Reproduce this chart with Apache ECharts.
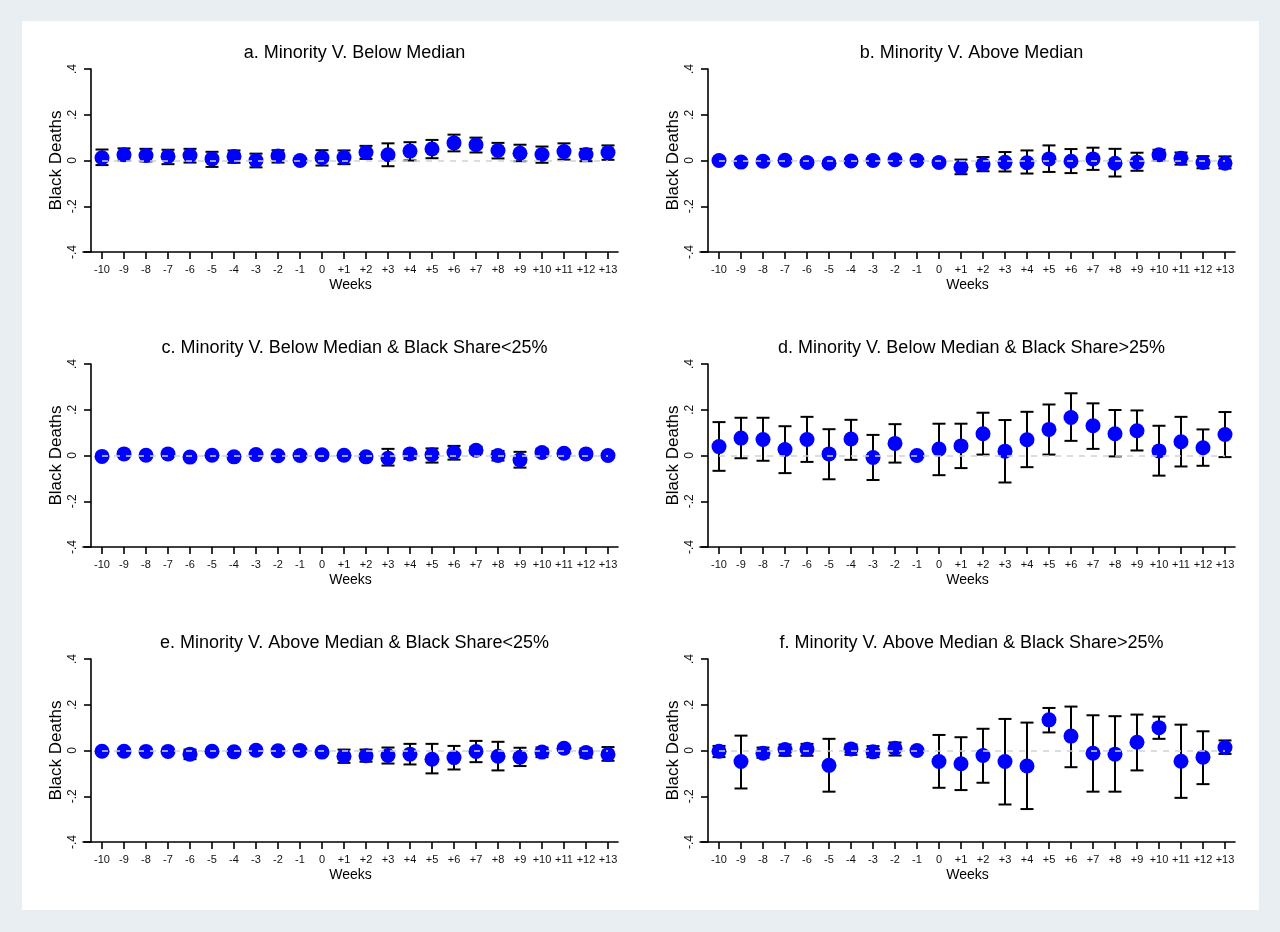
<!DOCTYPE html>
<html><head><meta charset="utf-8">
<script src="https://cdn.jsdelivr.net/npm/echarts@6/dist/echarts.min.js"></script>
<style>
html,body{margin:0;padding:0;background:#e8eef2;width:1280px;height:932px;overflow:hidden}
#frame{position:absolute;left:22px;top:21px;width:1237px;height:889px;background:#fff}
#chart{position:absolute;left:0;top:0;width:1280px;height:932px}
</style></head><body>
<div id="frame"></div><div id="chart"></div>
<script>
const weeks = [-10,-9,-8,-7,-6,-5,-4,-3,-2,-1,0,1,2,3,4,5,6,7,8,9,10,11,12,13];
const weekLabels = ['-10','-9','-8','-7','-6','-5','-4','-3','-2','-1','0','+1','+2','+3','+4','+5','+6','+7','+8','+9','+10','+11','+12','+13'];
const yTicks = [-0.4,-0.2,0,0.2,0.4];
const yTickLabels = ['-.4','-.2','0','.2','.4'];

const titles = [
  'a. Minority V. Below Median',
  'b. Minority V. Above Median',
  'c. Minority V. Below Median & Black Share<25%',
  'd. Minority V. Below Median & Black Share>25%',
  'e. Minority V. Above Median & Black Share<25%',
  'f. Minority V. Above Median & Black Share>25%'
];

const aPt = [0.012,0.025,0.022,0.018,0.022,0.007,0.018,0.000,0.020,0.000,0.012,0.013,0.035,0.025,0.041,0.050,0.077,0.069,0.044,0.032,0.026,0.039,0.026,0.035];
const aLo = [-0.020,0.000,-0.004,-0.016,-0.009,-0.028,-0.010,-0.030,-0.009,null,-0.022,-0.016,0.007,-0.025,0.000,0.010,0.040,0.035,0.009,-0.003,-0.010,0.004,-0.003,0.003];
const aHi = [0.048,0.053,0.051,0.047,0.051,0.038,0.044,0.030,0.045,null,0.045,0.044,0.064,0.075,0.080,0.090,0.113,0.100,0.077,0.069,0.061,0.075,0.051,0.066];

const bPt = [0.000,-0.007,-0.003,0.001,-0.009,-0.012,-0.002,0.000,0.003,0.000,-0.009,-0.030,-0.018,-0.008,-0.010,0.007,-0.003,0.007,-0.012,-0.008,0.025,0.010,-0.009,-0.012];
const bLo = [-0.004,-0.018,-0.010,-0.004,-0.020,-0.022,-0.008,-0.005,-0.003,null,-0.021,-0.060,-0.047,-0.048,-0.057,-0.050,-0.055,-0.041,-0.070,-0.045,0.000,-0.018,-0.034,-0.035];
const bHi = [0.004,0.004,0.004,0.006,0.002,-0.002,0.004,0.005,0.009,null,0.003,0.004,0.015,0.037,0.044,0.066,0.050,0.056,0.051,0.034,0.047,0.035,0.019,0.018];

const cPt = [-0.004,0.007,0.001,0.007,-0.007,0.001,-0.006,0.004,-0.001,0.000,0.003,0.001,-0.006,-0.012,0.007,0.003,0.013,0.023,0.000,-0.019,0.013,0.010,0.007,0.000];
const cLo = [-0.010,0.001,-0.004,0.001,-0.014,-0.004,-0.012,-0.002,-0.007,null,-0.003,-0.005,-0.016,-0.044,-0.015,-0.031,-0.018,0.009,-0.022,-0.053,-0.003,-0.002,-0.002,-0.008];
const cHi = [0.002,0.013,0.006,0.013,0.000,0.006,0.000,0.010,0.005,null,0.009,0.007,0.004,0.029,0.020,0.031,0.042,0.038,0.020,0.016,0.029,0.022,0.016,0.008];

const dPt = [0.039,0.076,0.070,0.026,0.070,0.007,0.072,-0.009,0.053,0.000,0.028,0.042,0.095,0.019,0.069,0.114,0.166,0.130,0.095,0.108,0.020,0.060,0.034,0.092];
const dLo = [-0.067,-0.012,-0.023,-0.077,-0.028,-0.104,-0.019,-0.107,-0.031,null,-0.086,-0.055,0.004,-0.118,-0.051,0.004,0.064,0.029,-0.004,0.022,-0.088,-0.048,-0.045,-0.007];
const dHi = [0.146,0.165,0.165,0.128,0.169,0.115,0.156,0.090,0.137,null,0.139,0.139,0.187,0.155,0.191,0.223,0.272,0.228,0.199,0.197,0.130,0.169,0.114,0.190];

const ePt = [-0.003,-0.003,-0.004,-0.004,-0.016,-0.003,-0.006,0.001,-0.001,0.000,-0.007,-0.025,-0.023,-0.022,-0.016,-0.038,-0.031,-0.004,-0.025,-0.029,-0.007,0.010,-0.009,-0.017];
const eLo = [-0.008,-0.008,-0.009,-0.009,-0.038,-0.008,-0.011,-0.004,-0.006,null,-0.013,-0.054,-0.049,-0.057,-0.061,-0.100,-0.083,-0.051,-0.087,-0.068,-0.029,0.002,-0.031,-0.045];
const eHi = [0.002,0.002,0.001,0.001,0.004,0.002,-0.001,0.006,0.004,null,-0.001,0.004,0.004,0.013,0.029,0.029,0.020,0.042,0.038,0.012,0.013,0.018,0.009,0.015];

const fPt = [-0.003,-0.048,-0.012,0.004,0.006,-0.065,0.007,-0.006,0.010,0.000,-0.048,-0.058,-0.022,-0.048,-0.068,0.134,0.063,-0.012,-0.016,0.036,0.100,-0.047,-0.029,0.013];
const fLo = [-0.029,-0.166,-0.032,-0.023,-0.023,-0.180,-0.019,-0.029,-0.022,null,-0.163,-0.173,-0.141,-0.236,-0.256,0.079,-0.073,-0.180,-0.180,-0.087,0.051,-0.207,-0.147,-0.015];
const fHi = [0.020,0.065,0.013,0.026,0.029,0.051,0.026,0.019,0.035,null,0.068,0.058,0.095,0.138,0.122,0.186,0.192,0.154,0.150,0.157,0.148,0.113,0.084,0.044];

const panels = [
  {pt:aPt, lo:aLo, hi:aHi},
  {pt:bPt, lo:bLo, hi:bHi},
  {pt:cPt, lo:cLo, hi:cHi},
  {pt:dPt, lo:dLo, hi:dHi},
  {pt:ePt, lo:eLo, hi:eHi},
  {pt:fPt, lo:fLo, hi:fHi}
];

// layout
const colLeft = [83, 700];
const rowTop = [69, 364, 659];
const gridW = 535, gridH = 183;
const xMin = -10.864, xMax = 13.455;
const FONT = '"Liberation Sans", Arial, sans-serif';

function renderErr(params, api){
  const x = api.value(0), lo = api.value(1), hi = api.value(2);
  const p1 = api.coord([x, hi]), p2 = api.coord([x, lo]);
  const hw = 6.5;
  const st = {stroke:'#000', lineWidth:2};
  return {type:'group', children:[
    {type:'line', shape:{x1:p1[0],y1:p1[1],x2:p2[0],y2:p2[1]}, style:st},
    {type:'line', shape:{x1:p1[0]-hw,y1:p1[1],x2:p1[0]+hw,y2:p1[1]}, style:st},
    {type:'line', shape:{x1:p2[0]-hw,y1:p2[1],x2:p2[0]+hw,y2:p2[1]}, style:st}
  ]};
}

const grid=[], xAxis=[], yAxis=[], series=[], graphic=[];
panels.forEach((p, i) => {
  const col = i % 2, row = Math.floor(i / 2);
  const left = colLeft[col], top = rowTop[row];
  grid.push({left:left, top:top, width:gridW, height:gridH, containLabel:false});
  xAxis.push({
    type:'value', gridIndex:i, min:xMin, max:xMax,
    name:'Weeks', nameLocation:'middle', nameGap:26,
    nameTextStyle:{color:'#000', fontSize:14, fontFamily:FONT},
    axisLine:{show:true, onZero:false, lineStyle:{color:'#000', width:1.6}},
    axisTick:{show:true, length:7, customValues:weeks, lineStyle:{color:'#000', width:1.6}},
    axisLabel:{show:true, customValues:weeks, margin:12, color:'#111', fontSize:11, fontFamily:FONT,
      formatter:(v)=>{const k=weeks.indexOf(Math.round(v)); return k>=0?weekLabels[k]:'';}},
    splitLine:{show:false}
  });
  yAxis.push({
    type:'value', gridIndex:i, min:-0.4, max:0.4, interval:0.2, offset:-8,
    name:'Black Deaths', nameLocation:'middle', nameGap:26,
    nameTextStyle:{color:'#000', fontSize:17, fontFamily:FONT},
    axisLine:{show:true, onZero:false, lineStyle:{color:'#000', width:1.6}},
    axisTick:{show:true, length:7, lineStyle:{color:'#000', width:1.6}},
    axisLabel:{show:true, rotate:90, margin:12, color:'#111', fontSize:12, fontFamily:FONT,
      formatter:(v)=>{const k=yTicks.findIndex(t=>Math.abs(t-v)<1e-9); return k>=0?yTickLabels[k]:'';}},
    splitLine:{show:false}
  });
  const errData = [];
  weeks.forEach((w, k) => { if (p.lo[k] != null && p.hi[k] != null) errData.push([w, p.lo[k], p.hi[k]]); });
  series.push({
    type:'custom', xAxisIndex:i, yAxisIndex:i, data:errData, renderItem:renderErr,
    encode:{x:0, y:[1,2]}, z:2, silent:true,
    markLine:{silent:true, symbol:'none', label:{show:false},
      lineStyle:{color:'#cdd1da', type:[6,6], width:1.5},
      data:[[{coord:[weeks[0],0]},{coord:[weeks[weeks.length-1],0]}]]}
  });
  series.push({
    type:'scatter', xAxisIndex:i, yAxisIndex:i, symbol:'circle', symbolSize:15, z:4,
    itemStyle:{color:'#0000ff', opacity:1},
    data: weeks.map((w,k)=>[w, p.pt[k]])
  });
  graphic.push({type:'text', x:left + gridW/2 + 4, y:top - 16,
    style:{text:titles[i], fill:'#000', font:'18px ' + FONT, textAlign:'center', textVerticalAlign:'middle'}});
});

const chart = echarts.init(document.getElementById('chart'), null, {renderer:'canvas'});
chart.setOption({
  animation:false,
  backgroundColor:'transparent',
  grid, xAxis, yAxis, series, graphic
});
</script>
</body></html>
